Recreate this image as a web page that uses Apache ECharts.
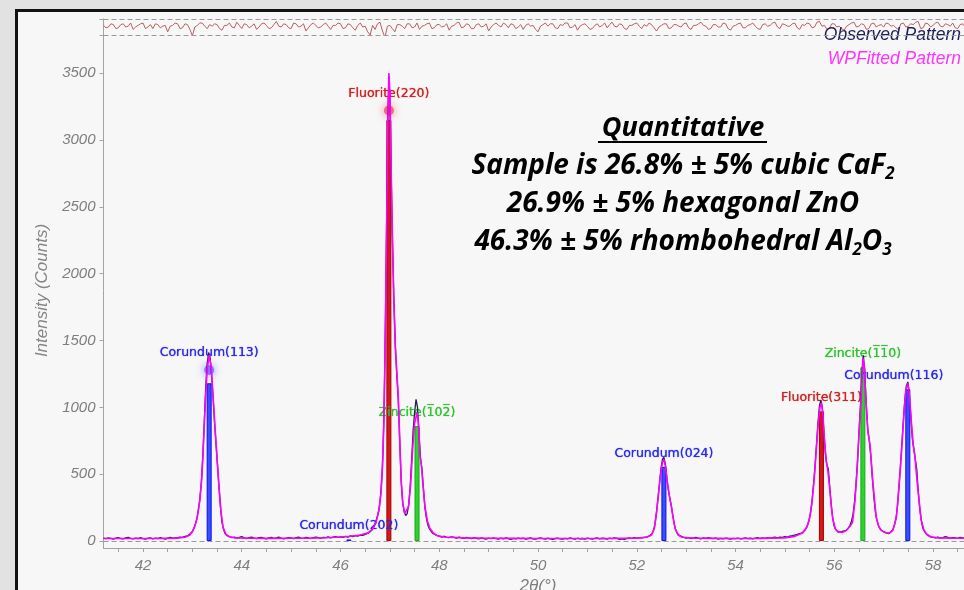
<!DOCTYPE html>
<html>
<head>
<meta charset="utf-8">
<script src="https://cdn.jsdelivr.net/npm/echarts@6/dist/echarts.min.js"></script>
<style>
  html, body { margin: 0; padding: 0; overflow: hidden; background: #e2e2e2; }
  #chart { width: 1000px; height: 620px; }
</style>
</head>
<body>
<div id="chart"></div>
<script>
// ---- Whole-pattern fit of a CaF2 / ZnO / Al2O3 mixture, 2θ 41.2°–58.8° ----

// Measured diffraction pattern [2θ, counts]
const observedPattern = [
  [41.20,22],[41.25,18],[41.30,24],[41.35,20],[41.40,15],[41.45,21],[41.50,26],[41.55,19],[41.60,17],[41.65,23],
  [41.70,28],[41.75,20],[41.80,16],[41.85,22],[41.90,19],[41.95,25],[42.00,18],[42.05,14],[42.10,21],[42.15,24],
  [42.20,17],[42.25,22],[42.30,19],[42.35,26],[42.40,20],[42.45,15],[42.50,22],[42.55,27],[42.60,21],[42.65,24],
  [42.70,26],[42.75,30],[42.80,27],[42.85,35],[42.90,38],[42.95,52],[43.00,72],[43.03,95],[43.06,125],[43.09,165],
  [43.12,230],[43.15,310],[43.18,430],[43.21,620],[43.24,880],[43.27,1150],[43.30,1330],[43.33,1410],[43.36,1370],[43.39,1240],
  [43.42,1070],[43.45,880],[43.48,720],[43.51,560],[43.54,400],[43.57,250],[43.60,140],[43.63,90],[43.66,58],[43.70,40],
  [43.75,34],[43.80,26],[43.85,29],[43.90,22],[43.95,27],[44.00,33],[44.05,24],[44.10,19],[44.15,26],[44.20,30],
  [44.25,22],[44.30,18],[44.35,25],[44.40,28],[44.45,21],[44.50,17],[44.55,24],[44.60,27],[44.65,20],[44.70,23],
  [44.75,29],[44.80,22],[44.85,16],[44.90,21],[44.95,26],[45.00,23],[45.05,18],[45.10,25],[45.15,29],[45.20,22],
  [45.25,20],[45.30,27],[45.35,24],[45.40,19],[45.45,26],[45.50,30],[45.55,25],[45.60,21],[45.65,28],[45.70,26],
  [45.75,31],[45.80,24],[45.85,29],[45.90,33],[45.95,27],[46.00,32],[46.05,28],[46.10,35],[46.15,30],[46.20,38],
  [46.25,33],[46.30,40],[46.35,37],[46.40,45],[46.45,42],[46.50,50],[46.55,57],[46.60,70],[46.64,85],[46.68,110],
  [46.72,150],[46.75,190],[46.78,240],[46.81,330],[46.84,480],[46.86,660],[46.88,950],[46.90,1380],[46.92,1950],[46.94,2580],
  [46.96,3180],[46.98,3480],[47.00,3320],[47.02,2880],[47.05,2280],[47.08,1820],[47.11,1470],[47.14,1250],[47.17,1060],[47.20,740],
  [47.23,440],[47.26,285],[47.29,220],[47.32,190],[47.35,205],[47.38,270],[47.41,400],[47.44,600],[47.47,820],[47.50,960],
  [47.53,1060],[47.56,1000],[47.59,800],[47.62,620],[47.65,540],[47.68,390],[47.71,250],[47.74,170],[47.77,120],[47.80,92],
  [47.84,70],[47.88,55],[47.92,48],[47.96,40],[48.00,34],[48.05,30],[48.10,36],[48.15,28],[48.20,25],[48.25,31],
  [48.30,27],[48.35,22],[48.40,29],[48.45,24],[48.50,20],[48.55,27],[48.60,23],[48.65,18],[48.70,25],[48.75,21],
  [48.80,17],[48.85,23],[48.90,19],[48.95,14],[49.00,22],[49.05,18],[49.10,24],[49.15,19],[49.20,15],[49.25,21],
  [49.30,17],[49.35,23],[49.40,19],[49.45,13],[49.50,20],[49.55,16],[49.60,22],[49.65,18],[49.70,21],[49.75,15],
  [49.80,19],[49.85,23],[49.90,17],[49.95,14],[50.00,20],[50.05,24],[50.10,18],[50.15,15],[50.20,21],[50.25,17],
  [50.30,13],[50.35,19],[50.40,22],[50.45,16],[50.50,14],[50.55,20],[50.60,17],[50.65,23],[50.70,18],[50.75,14],
  [50.80,21],[50.85,17],[50.90,19],[50.95,15],[51.00,22],[51.05,18],[51.10,14],[51.15,20],[51.20,24],[51.25,17],
  [51.30,21],[51.35,19],[51.40,15],[51.45,22],[51.50,18],[51.55,24],[51.60,20],[51.65,13],[51.70,17],[51.75,12],
  [51.80,19],[51.85,23],[51.90,20],[51.95,25],[52.00,21],[52.05,26],[52.10,23],[52.15,28],[52.20,31],[52.25,36],
  [52.28,42],[52.31,55],[52.34,80],[52.37,130],[52.40,215],[52.43,320],[52.46,430],[52.49,540],[52.52,610],[52.55,625],
  [52.58,575],[52.61,470],[52.64,380],[52.67,320],[52.70,265],[52.73,190],[52.76,125],[52.79,82],[52.82,58],[52.86,42],
  [52.90,33],[52.95,27],[53.00,22],[53.05,26],[53.10,19],[53.15,23],[53.20,28],[53.25,21],[53.30,17],[53.35,24],
  [53.40,20],[53.45,26],[53.50,22],[53.55,18],[53.60,23],[53.65,15],[53.70,20],[53.75,17],[53.80,22],[53.85,19],
  [53.90,14],[53.95,20],[54.00,18],[54.05,22],[54.10,16],[54.15,19],[54.20,23],[54.25,18],[54.30,21],[54.35,17],
  [54.40,22],[54.45,25],[54.50,19],[54.55,23],[54.60,20],[54.65,26],[54.70,22],[54.75,25],[54.80,29],[54.85,24],
  [54.90,30],[54.95,28],[55.00,33],[55.05,30],[55.10,37],[55.15,40],[55.20,45],[55.25,50],[55.30,56],[55.35,62],
  [55.40,78],[55.44,100],[55.48,140],[55.52,210],[55.55,300],[55.58,420],[55.61,560],[55.64,720],[55.67,880],[55.70,1010],
  [55.73,1055],[55.76,990],[55.79,820],[55.82,660],[55.85,570],[55.88,540],[55.91,400],[55.94,270],[55.97,165],[56.00,110],
  [56.04,82],[56.08,66],[56.12,60],[56.16,72],[56.20,62],[56.24,80],[56.28,95],[56.32,118],[56.35,150],[56.38,200],
  [56.41,290],[56.44,420],[56.47,590],[56.50,800],[56.53,1010],[56.56,1250],[56.59,1390],[56.62,1250],[56.65,1010],[56.68,830],
  [56.71,750],[56.74,640],[56.77,480],[56.80,340],[56.83,230],[56.86,160],[56.90,112],[56.94,85],[56.98,72],[57.02,64],
  [57.06,60],[57.10,55],[57.14,68],[57.18,80],[57.22,120],[57.25,170],[57.28,260],[57.31,400],[57.34,560],[57.37,730],
  [57.40,900],[57.43,1060],[57.46,1160],[57.49,1190],[57.52,1110],[57.55,940],[57.58,770],[57.61,690],[57.64,680],[57.67,540],
  [57.70,380],[57.73,250],[57.76,160],[57.79,100],[57.83,70],[57.87,50],[57.91,38],[57.95,31],[58.00,27],[58.05,24],
  [58.10,29],[58.15,22],[58.20,25],[58.25,33],[58.30,27],[58.35,21],[58.40,26],[58.45,23],[58.50,20],[58.55,27],
  [58.60,24],[58.65,19],[58.70,25],[58.75,22],[58.80,20]
];

// Whole-pattern fitted profile [2θ, counts]
const fittedPattern = [
  [41.20,19],[41.60,19],[42.00,19],[42.40,20],[42.70,22],[42.85,28],[42.95,45],[43.00,70],[43.05,110],[43.10,180],
  [43.15,300],[43.19,470],[43.22,690],[43.26,1020],[43.30,1290],[43.34,1390],[43.38,1300],[43.42,1080],[43.46,840],[43.50,620],
  [43.54,400],[43.58,220],[43.62,105],[43.68,50],[43.75,32],[43.85,24],[44.20,21],[44.60,20],[45.00,21],[45.40,22],
  [45.70,25],[46.00,30],[46.20,36],[46.40,45],[46.55,60],[46.65,90],[46.72,140],[46.78,230],[46.82,360],[46.85,560],
  [46.88,900],[46.90,1350],[46.92,1900],[46.94,2550],[46.96,3150],[46.98,3500],[47.00,3350],[47.02,2900],[47.05,2300],[47.08,1800],
  [47.11,1450],[47.14,1260],[47.17,1080],[47.20,760],[47.23,450],[47.26,290],[47.30,205],[47.34,200],[47.38,260],[47.42,420],
  [47.46,680],[47.50,880],[47.55,960],[47.58,880],[47.61,640],[47.64,560],[47.67,420],[47.71,260],[47.76,150],[47.81,95],
  [47.88,60],[47.95,42],[48.10,30],[48.50,24],[49.00,21],[49.50,20],[50.00,19],[50.50,19],[51.00,19],[51.50,20],
  [52.00,22],[52.20,28],[52.30,45],[52.36,100],[52.40,210],[52.44,350],[52.48,490],[52.52,590],[52.55,610],[52.58,560],
  [52.62,440],[52.66,340],[52.70,260],[52.74,170],[52.78,90],[52.84,45],[52.92,28],[53.20,21],[53.60,20],[54.00,19],
  [54.50,20],[55.00,24],[55.20,35],[55.36,60],[55.45,110],[55.50,170],[55.55,290],[55.60,490],[55.64,700],[55.67,860],
  [55.71,1000],[55.74,1035],[55.77,950],[55.80,760],[55.84,590],[55.87,530],[55.90,420],[55.94,260],[55.97,170],[56.02,90],
  [56.08,70],[56.17,65],[56.25,80],[56.32,110],[56.37,140],[56.42,300],[56.47,580],[56.51,860],[56.55,1100],[56.58,1370],
  [56.61,1300],[56.64,1060],[56.68,820],[56.72,730],[56.75,600],[56.78,450],[56.82,290],[56.85,180],[56.90,110],[56.95,80],
  [57.05,62],[57.12,60],[57.19,82],[57.26,180],[57.32,450],[57.36,650],[57.39,830],[57.42,1000],[57.45,1130],[57.49,1180],
  [57.52,1100],[57.56,900],[57.60,720],[57.63,650],[57.66,520],[57.69,400],[57.73,260],[57.76,160],[57.81,90],[57.86,55],
  [57.95,32],[58.10,24],[58.40,22],[58.80,21]
];

// Difference curve (observed − fitted, scaled to the ±1 band), 0.05° steps from 41.2°
const residualStart = 41.2;
const residualStep = 0.05;
const residual = [
  0.2,-0.1, 0.0, 0.4, 0.3,-0.2,-0.1, 0.3, 0.4, 0.0, 0.1, 0.5,-0.3, 0.0, 0.2, 0.4, 0.5,-0.2, 0.0, 0.3,
 -0.2, 0.4, 0.3,-0.1, 0.1, 0.2,-0.6, 0.1, 0.2, 0.5, 0.4,-0.2,-0.1, 0.4, 0.3,-0.3,-1.1, 0.0, 0.2, 0.5,
  0.5, 0.1,-0.2, 0.3, 0.1, 0.4, 0.3,-0.2,-0.4, 0.2, 0.2, 0.5, 0.0,-0.1, 0.6, 0.2,-0.2, 0.4, 0.3,-0.1,
  0.1, 0.4,-0.3, 0.0, 0.4, 0.5, 0.2,-0.2,-0.1, 0.3, 0.7, 0.1, 0.0, 0.4, 0.3,-0.1,-0.2, 0.5, 0.4, 0.0,
  0.1, 0.4,-0.5,-0.1, 0.3, 0.5, 0.2,-0.1, 0.0, 0.3, 0.5, 0.1,-0.3, 0.2, 0.2, 0.5, 0.4,-0.2,-0.1, 0.4,
  0.3,-0.1,-0.4, 0.2, 0.5, 0.0, 0.1,-0.6,-1.0, 0.2,-0.3, 0.4, 0.6,-0.5,-1.3, 0.1, 0.2,-0.2,-0.6, 0.3,
  0.3, 0.1,-0.2, 0.4, 0.4,-0.1, 0.0, 0.5,-0.3, 0.1, 0.2, 0.4, 0.5,-0.2,-0.1, 0.3, 0.3, 0.0, 0.1, 0.4,
 -0.4, 0.1, 0.2, 0.5, 0.6,-0.1, 0.0, 0.4, 0.3,-0.2,-0.2, 0.3, 0.4, 0.0, 0.1, 0.4,-0.5, 0.0, 0.3, 0.5,
  0.2, 0.0, 0.5, 0.3,-0.1, 0.4, 0.3,-0.2, 0.0, 0.3,-0.3, 0.2, 0.4, 0.1, 0.2,-0.3,-0.6, 0.1, 0.3, 0.5,
  0.1, 0.4, 0.4,-0.1,-0.2, 0.3, 0.2, 0.5, 0.5,-0.1, 0.0, 0.3,-0.4, 0.1, 0.3, 0.4, 0.1,-0.3,-0.2, 0.2,
  0.4, 0.0, 0.2, 0.5,-0.1, 0.3, 0.6, 0.1, 0.0, 0.4, 0.3,-0.2,-0.3, 0.2, 0.2, 0.4, 0.5, 0.1,-0.2, 0.3,
  0.1, 0.5, 0.3,-0.1,-0.5, 0.0, 0.2, 0.4, 0.4,-0.2,-0.1, 0.3, 0.3, 0.1, 0.0, 0.4, 0.5,-0.1,-0.3, 0.2,
  0.2, 0.4, 0.6, 0.2, 0.1,-0.3,-0.2, 0.3, 0.3, 0.0, 0.0, 0.5, 0.4,-0.2,-0.4, 0.1, 0.2, 0.4, 0.5,-0.1,
 -0.1, 0.2, 0.3, 0.5, 0.1,-0.2,-0.3, 0.3, 0.4, 0.1, 0.2, 0.5, 0.6, 0.0,-0.2, 0.4, 0.3, 0.1, 0.1, 0.4,
  0.5,-0.1,-0.3, 0.3, 0.2, 0.5, 0.4,-0.1, 0.0, 0.6, 0.7, 0.1, 0.2,-0.3,-0.2, 0.4, 0.4, 0.0, 0.1,-0.2,
 -0.4, 0.1, 0.3, 0.5, 0.6, 0.0, 0.1, 0.4, 0.3,-0.3,-0.2, 0.4, 0.5, 0.0, 0.2, 0.3, 0.0, 0.5, 0.4, 0.1,
  0.2,-0.1,-0.3, 0.4, 0.5, 0.0, 0.1, 0.4, 0.3, 0.6, 0.7,-0.2,-0.1, 0.5, 0.4, 0.0, 0.2, 0.5, 0.6, 0.1,
  0.0, 0.4, 0.3, 0.1, 0.5,-0.1,-0.2, 0.3, 0.4, 0.0, 0.1, 0.4, 0.3
];

// Reference reflections of each phase: position (2θ), stick height, hkl label
const fluoritePeaks = [46.98, 55.74];
const fluoriteHeights = [3150, 970];
const fluoriteLabels = ['Fluorite(220)', 'Fluorite(311)'];

const zincitePeaks = [47.55, 56.58];
const zinciteHeights = [860, 1300];
const zinciteLabels = ['Zincite(1\u030502\u0305)', 'Zincite(1\u03051\u03050)'];

const corundumPeaks = [43.34, 46.17, 52.55, 57.49];
const corundumHeights = [1180, 12, 555, 1135];
const corundumLabels = ['Corundum(113)', 'Corundum(202)', 'Corundum(024)', 'Corundum(116)'];

// Highlighted (selected) reflections
const selectedPeaks = [43.34, 46.98];
const selectedHeights = [1280, 3220];

// Axis ticks and labels
const xTickValues = [41.5,42,42.5,43,43.5,44,44.5,45,45.5,46,46.5,47,47.5,48,48.5,49,49.5,50,
                     50.5,51,51.5,52,52.5,53,53.5,54,54.5,55,55.5,56,56.5,57,57.5,58,58.5];
const xLabelValues = [42, 44, 46, 48, 50, 52, 54, 56, 58];
const yLabelValues = [0, 500, 1000, 1500, 2000, 2500, 3000, 3500];

// Result summary (alternating normal / subscript runs)
const summaryTitle = 'Quantitative';
const summaryLines = [
  ['Sample is 26.8% \u00b1 5% cubic CaF', '2'],
  ['26.9% \u00b1 5% hexagonal ZnO'],
  ['46.3% \u00b1 5% rhombohedral Al', '2', 'O', '3']
];

// ---------------------------------------------------------------
const axisGray = '#a3a3a3';
const labelGray = '#7e7e7e';
const tickFont = 'Liberation Sans';
const summaryFont = 'Open Sans';

const residualData = residual.map((v, i) => [+(residualStart + i * residualStep).toFixed(2), v]);

function sticks(pos, h, names, extra) {
  return pos.map((x, i) => {
    const item = { value: [x, h[i]], name: names[i] };
    if (extra && extra[i]) item.label = extra[i];
    return item;
  });
}

function stickLabel(color) {
  return {
    show: true, position: 'top', distance: 7, formatter: '{b}',
    color: color, fontFamily: 'DejaVu Sans', fontSize: 12.5,
    textShadowColor: color, textShadowBlur: 1
  };
}

const chart = echarts.init(document.getElementById('chart'), null, { renderer: 'canvas' });

const richMain = { fontFamily: summaryFont, fontSize: 28, fontWeight: 'bold', fontStyle: 'italic', lineHeight: 34, fill: '#000' };
const richSub = { fontFamily: summaryFont, fontSize: 17, fontWeight: 'bold', fontStyle: 'italic', lineHeight: 17, verticalAlign: 'bottom', fill: '#000' };

function summaryText(parts) {
  return parts.map((p, i) => (i % 2 === 0 ? '{m|' : '{s|') + p + '}').join('');
}

const option = {
  backgroundColor: 'transparent',
  animation: false,
  graphic: [
    {
      type: 'rect', z: -100, silent: true,
      shape: { x: 16.5, y: 10.5, width: 1200, height: 800 },
      style: { fill: '#f7f7f7', stroke: '#121212', lineWidth: 3 }
    },
    {
      type: 'text', x: 683, y: 128, z: 50, silent: true,
      style: { text: summaryTitle, font: 'italic bold 27px "Open Sans"', fill: '#000', align: 'center', verticalAlign: 'middle' }
    },
    {
      type: 'line', z: 50, silent: true,
      shape: { x1: 598, y1: 142, x2: 767, y2: 142 },
      style: { stroke: '#000', lineWidth: 2 }
    },
    ...summaryLines.map((parts, i) => ({
      type: 'text', x: 683, y: 166 + i * 38, z: 50, silent: true,
      style: {
        text: summaryText(parts), align: 'center', verticalAlign: 'middle',
        rich: { m: richMain, s: richSub }
      }
    }))
  ],
  legend: {
    data: [
      { name: 'Observed Pattern', textStyle: { color: '#1f1f5c' } },
      { name: 'WPFitted Pattern', textStyle: { color: '#ff33ff' } }
    ],
    orient: 'vertical', right: 29, top: 21, align: 'right',
    icon: 'none', itemWidth: 0, itemHeight: 14, itemGap: 6,
    selectedMode: false,
    textStyle: { fontFamily: 'Liberation Sans', fontStyle: 'italic', fontSize: 17.5 }
  },
  grid: [
    { left: 103.5, top: 33, width: 869, height: 515 },
    { left: 103.5, top: 19, width: 869, height: 16 }
  ],
  xAxis: [
    {
      gridIndex: 0, type: 'value', min: 41.2, max: 58.8,
      axisLine: { show: true, onZero: false, lineStyle: { color: axisGray } },
      axisTick: { show: true, length: 4, customValues: xTickValues, lineStyle: { color: axisGray } },
      axisLabel: { customValues: xLabelValues, margin: 10, color: labelGray, fontStyle: 'italic', fontSize: 15, fontFamily: tickFont },
      splitLine: { show: false },
      name: '2\u03b8(\u00b0)', nameLocation: 'middle', nameGap: 30,
      nameTextStyle: { color: labelGray, fontStyle: 'italic', fontSize: 17, fontFamily: tickFont }
    },
    {
      gridIndex: 1, type: 'value', min: 41.2, max: 58.8, show: false
    }
  ],
  yAxis: [
    {
      gridIndex: 0, type: 'value', min: -52, max: 3800,
      axisLine: { show: true, onZero: false, lineStyle: { color: axisGray } },
      axisTick: { show: true, length: 4, customValues: yLabelValues, lineStyle: { color: axisGray } },
      axisLabel: {
        customValues: yLabelValues, margin: 8, color: labelGray, fontStyle: 'italic', fontSize: 15, fontFamily: tickFont,
        formatter: v => String(v)
      },
      splitLine: { show: false },
      name: 'Intensity (Counts)', nameLocation: 'middle', nameGap: 49,
      nameTextStyle: { color: '#858585', fontStyle: 'italic', fontSize: 17, fontFamily: tickFont }
    },
    {
      gridIndex: 1, type: 'value', min: -1, max: 1,
      axisLine: { show: true, onZero: false, lineStyle: { color: axisGray } },
      axisTick: { show: true, length: 4, customValues: [1, -1], lineStyle: { color: axisGray } },
      axisLabel: { show: false },
      splitLine: { show: false }
    }
  ],
  series: [
    {
      name: 'Difference', type: 'line', xAxisIndex: 1, yAxisIndex: 1,
      data: residualData, showSymbol: false, silent: true,
      lineStyle: { color: '#bb5e5e', width: 1 },
      markLine: {
        silent: true, symbol: 'none', label: { show: false },
        lineStyle: { color: '#9a9a9a', type: [5, 3], width: 1 },
        data: [{ yAxis: 1 }, { yAxis: -1 }]
      }
    },
    {
      name: 'Observed Pattern', type: 'line', data: observedPattern,
      showSymbol: false, silent: true,
      lineStyle: { color: '#22224f', width: 1.3 },
      markLine: {
        silent: true, symbol: 'none', label: { show: false },
        lineStyle: { color: '#9a9a9a', type: [5, 3], width: 1 },
        data: [{ yAxis: 0 }]
      }
    },
    {
      name: 'WPFitted Pattern', type: 'line', data: fittedPattern,
      showSymbol: false, silent: true,
      lineStyle: { color: '#ff00ff', width: 1.6 }
    },
    {
      name: 'Fluorite', type: 'bar', barWidth: 5, barGap: '-100%', silent: true,
      data: sticks(fluoritePeaks, fluoriteHeights, fluoriteLabels, [{ distance: 20 }, null]),
      itemStyle: { color: '#d81818', borderColor: '#a00000', borderWidth: 1 },
      label: stickLabel('#cc2424')
    },
    {
      name: 'Zincite', type: 'bar', barWidth: 5, barGap: '-100%', silent: true,
      data: sticks(zincitePeaks, zinciteHeights, zinciteLabels),
      itemStyle: { color: '#2bd42b', borderColor: '#18a818', borderWidth: 1 },
      label: stickLabel('#30c030')
    },
    {
      name: 'Corundum', type: 'bar', barWidth: 5, barGap: '-100%', silent: true,
      data: sticks(corundumPeaks, corundumHeights, corundumLabels,
        [{ distance: 24 }, null, null, { offset: [-14, 0] }]),
      itemStyle: { color: '#3a50ff', borderColor: '#0c0cf0', borderWidth: 1 },
      label: stickLabel('#2a2ae8')
    },
    {
      name: 'Selected', type: 'scatter', silent: true,
      data: selectedPeaks.map((x, i) => ({
        value: [x, selectedHeights[i]],
        itemStyle: i === 0
          ? { color: 'rgba(70,70,255,0.75)', shadowColor: '#4040ff', shadowBlur: 8 }
          : { color: 'rgba(225,50,60,0.75)', shadowColor: '#e03030', shadowBlur: 8 }
      })),
      symbolSize: 10
    }
  ]
};

chart.setOption(option);
</script>
</body>
</html>
